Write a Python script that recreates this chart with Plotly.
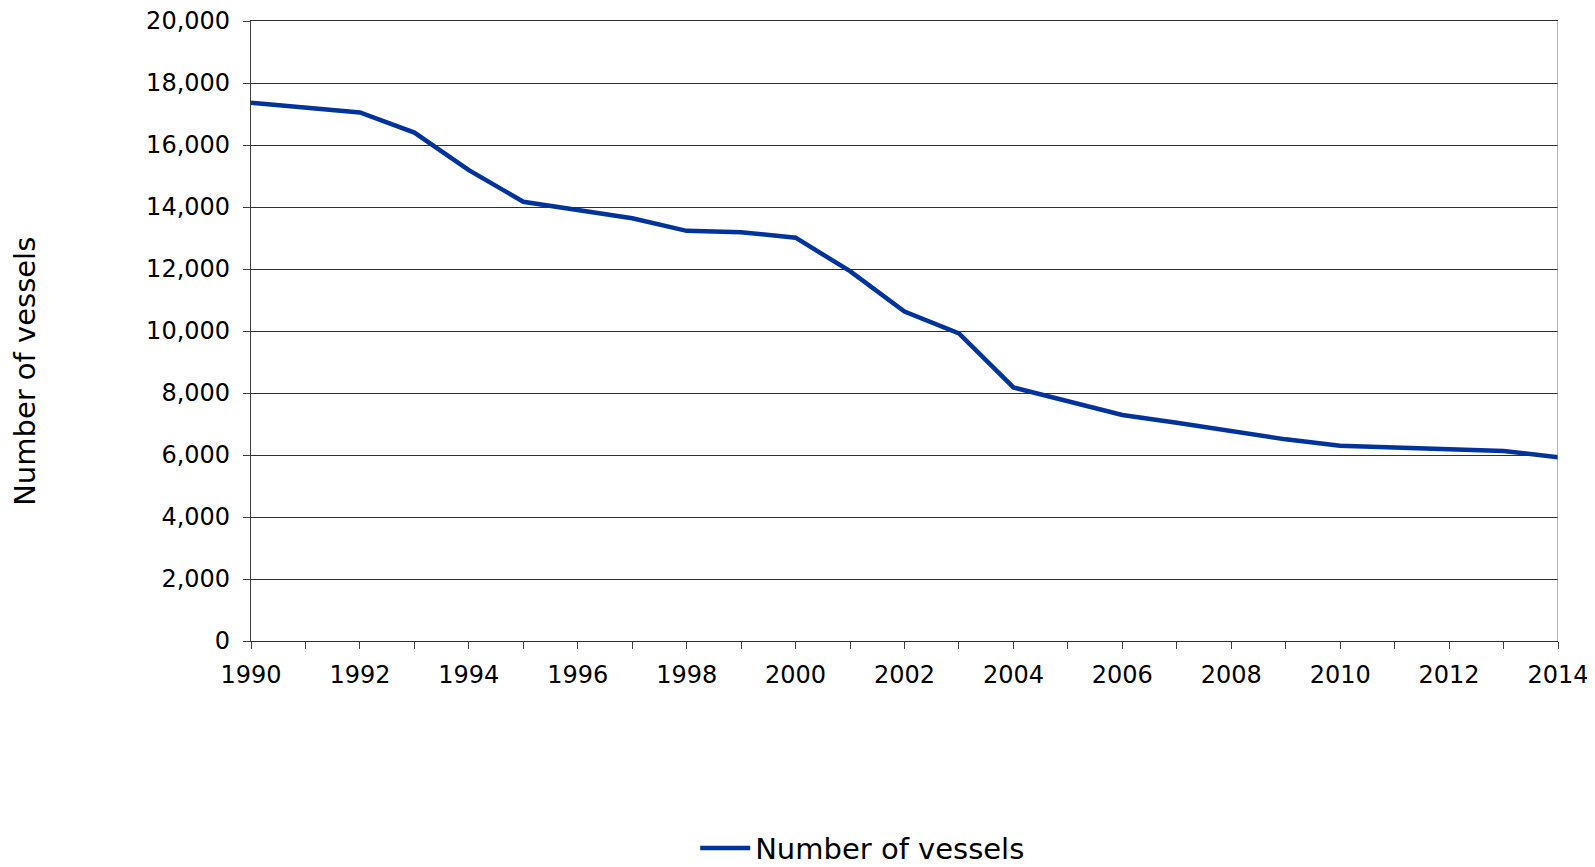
import plotly.graph_objects as go

years = list(range(1990, 2015))
vessels = [17360, 17200, 17050, 16400, 15190, 14170, 13915, 13635, 13230, 13185,
           13010, 11930, 10625, 9925, 8180, 7720, 7290, 7040, 6785, 6505,
           6300, 6245, 6215, 6130, 5925]
series_name = "Number of vessels"
y_ticks = list(range(0, 20001, 2000))
y_tick_labels = [f"{v:,}" for v in y_ticks]

FONT = "DejaVu Sans, Verdana, sans-serif"

fig = go.Figure()
fig.add_trace(go.Scatter(
    x=years, y=vessels, mode="lines", name=series_name,
    line=dict(color="#00339C", width=4.5),
))

fig.update_layout(
    width=1587, height=859,
    margin=dict(l=243, r=37, t=13, b=226, autoexpand=False),
    paper_bgcolor="white", plot_bgcolor="white",
    font=dict(family=FONT, size=24, color="black"),
    showlegend=True,
    legend=dict(orientation="h", x=0.468, xanchor="center", y=-0.334, yanchor="middle",
                font=dict(size=29, family=FONT, color="black"), itemwidth=50),
    xaxis=dict(
        range=[1990, 2014], dtick=2, tick0=1990, tickformat="d",
        showgrid=False, zeroline=False,
        showline=True, linecolor="#303030", linewidth=1.2, mirror=True,
        ticks="outside", ticklen=7, tickcolor="#404040", tickwidth=1.2,
        minor=dict(dtick=1, ticks="outside", ticklen=7, tickcolor="#404040", tickwidth=1.2, showgrid=False),
        tickfont=dict(size=24), ticklabelstandoff=5, ticklabeloverflow="allow",
    ),
    yaxis=dict(
        range=[0, 20000], tickvals=y_ticks, ticktext=y_tick_labels,
        showgrid=True, gridcolor="#303030", gridwidth=1,
        zeroline=False,
        showline=True, linecolor="#404040", linewidth=1.2,
        ticks="outside", ticklen=7, tickcolor="#404040", tickwidth=1.2,
        tickfont=dict(size=24), ticklabelstandoff=8, ticklabeloverflow="allow",
    ),
)

# right border of plot area
fig.add_shape(type="line", xref="x", yref="paper", x0=2014, x1=2014, y0=0, y1=1,
              line=dict(color="#808080", width=1.2))

# y-axis title
fig.add_annotation(text="Number of vessels", xref="paper", yref="paper",
                   x=-0.1725, y=0.435, xanchor="center", yanchor="middle",
                   textangle=-90, showarrow=False,
                   font=dict(size=29, family=FONT, color="black"))

fig.write_html("out.html")
